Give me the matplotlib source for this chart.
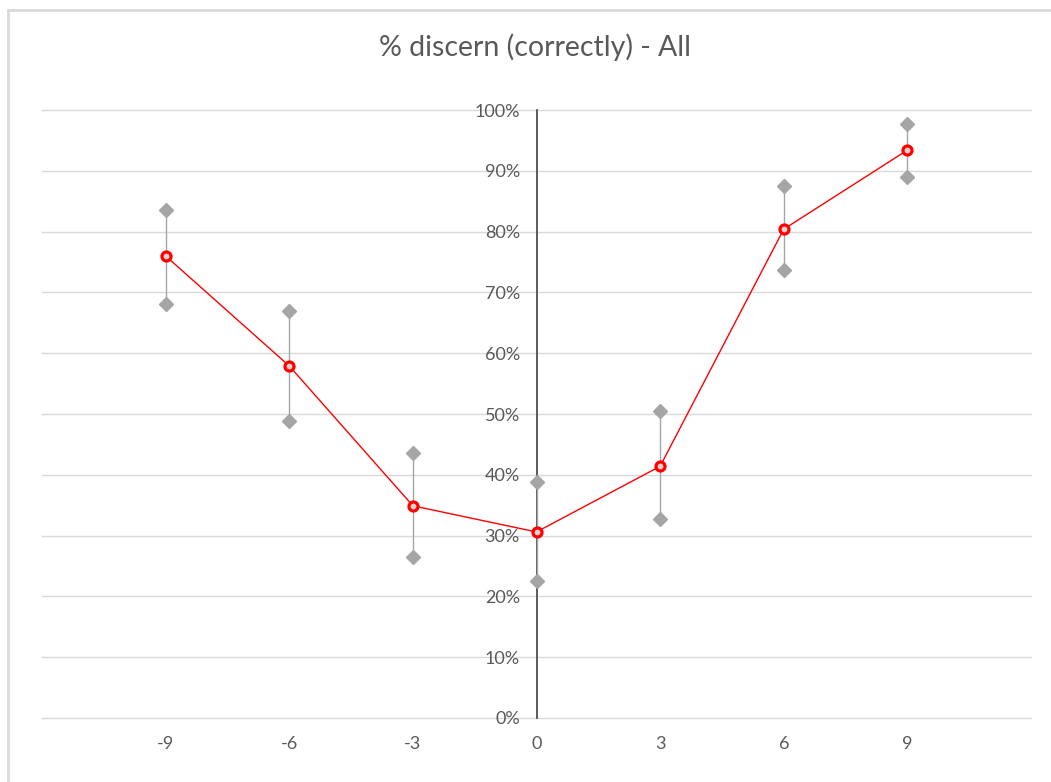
import matplotlib.pyplot as plt
from matplotlib.patches import Rectangle
from matplotlib.ticker import PercentFormatter

plt.rcParams['font.family'] = ['Lato', 'DejaVu Sans']
plt.rcParams['axes.unicode_minus'] = False

# offsets and measured shares
offsets = [-9, -6, -3, 0, 3, 6, 9]
mean_pct = [76.0, 57.9, 34.9, 30.6, 41.4, 80.4, 93.4]
upper_pct = [83.6, 66.9, 43.6, 38.8, 50.5, 87.5, 97.7]
lower_pct = [68.1, 48.8, 26.5, 22.5, 32.7, 73.7, 89.0]

W, H = 1051, 782
fig = plt.figure(figsize=(W / 100, H / 100), dpi=100)
ax = fig.add_axes([42 / W, (H - 718) / H, (1031 - 42) / W, (718 - 110) / H])

# outer chart border (left and top visible)
fig.patches.append(Rectangle((8 / W, -0.1), 1.2, 1 - 9.5 / H + 0.1,
                             transform=fig.transFigure, fill=False,
                             edgecolor='#d9d9d9', linewidth=2, zorder=0))

grey = '#a5a5a5'
# range bars with diamond ends
ax.vlines(offsets, lower_pct, upper_pct, color=grey, linewidth=1, zorder=2)
ax.plot(offsets, upper_pct, 'D', color=grey, markersize=7.5, zorder=3)
ax.plot(offsets, lower_pct, 'D', color=grey, markersize=7.5, zorder=3)

# mean line
ax.plot(offsets, mean_pct, color='#ff0000', linewidth=1, marker='o',
        markersize=6.5, markerfacecolor='#f4d0d0', markeredgecolor='#ff0000',
        markeredgewidth=2.3, zorder=4)

ax.set_xlim(-12, 12)
ax.set_ylim(0, 100)
ax.set_xticks(offsets)
ax.set_yticks(range(0, 101, 10))
ax.yaxis.set_major_formatter(PercentFormatter(decimals=0))

for s in ['top', 'right', 'bottom']:
    ax.spines[s].set_visible(False)
ax.spines['left'].set_position(('data', 0))
ax.spines['left'].set_color('#404040')
ax.spines['left'].set_linewidth(1.2)
ax.spines['left'].set_zorder(1)

ax.grid(axis='y', color='#d9d9d9', linewidth=1)
for gl in ax.get_ygridlines():
    gl.set_clip_on(False)
ax.set_axisbelow(True)
ax.tick_params(axis='both', length=0, labelsize=13, labelcolor='#595959')
ax.tick_params(axis='y', pad=12)
ax.tick_params(axis='x', pad=13)

fig.text(535 / W, 1 - 47 / H, '% discern (correctly) - All', ha='center',
         va='center', fontsize=20.5, color='#595959')

fig.savefig('out.png', dpi=100)
